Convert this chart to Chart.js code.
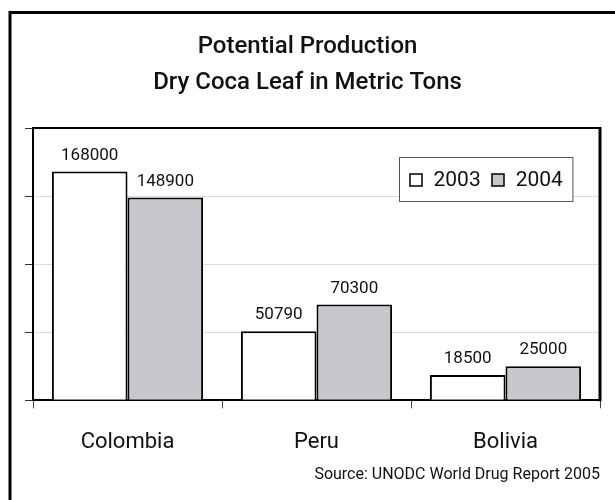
<!DOCTYPE html>
<html>
<head>
<meta charset="utf-8">
<script src="https://cdn.jsdelivr.net/npm/chart.js@4/dist/chart.umd.min.js"></script>
<style>
  html, body { margin: 0; padding: 0; background: #fff; }
  #wrap { width: 615px; height: 500px; position: relative; }
</style>
</head>
<body>
<div id="wrap"><canvas id="c" width="615" height="500"></canvas></div>
<script>
// Potential production of dry coca leaf (metric tons)
const countries = ['Colombia', 'Peru', 'Bolivia'];
const years = ['2003', '2004'];
const tons2003 = [168000, 50790, 18500];
const tons2004 = [148900, 70300, 25000];
const yTicks = [0, 50000, 100000, 150000, 200000];
const titleLines = ['Potential Production', 'Dry Coca Leaf in Metric Tons'];
const sourceNote = 'Source: UNODC World Drug Report 2005';

const FONT = 'Roboto, "DejaVu Sans", sans-serif';
Chart.defaults.font.family = FONT;
Chart.defaults.color = '#111';

// Page frame, plot box outline
const framePlugin = {
  id: 'frame',
  beforeDraw(chart) {
    const ctx = chart.ctx;
    ctx.save();
    ctx.fillStyle = '#fff';
    ctx.fillRect(0, 0, chart.width, chart.height);
    ctx.strokeStyle = '#000';
    ctx.lineWidth = 3;
    ctx.beginPath();
    ctx.moveTo(10, chart.height + 5);
    ctx.lineTo(10, 12.5);
    ctx.lineTo(chart.width + 5, 12.5);
    ctx.stroke();
    ctx.restore();
  },
  afterDatasetsDraw(chart) {
    const { ctx, chartArea: a } = chart;
    ctx.save();
    ctx.strokeStyle = '#000';
    ctx.lineWidth = 2;
    ctx.beginPath();
    ctx.moveTo(a.left, a.top);
    ctx.lineTo(a.right, a.top);
    ctx.stroke();
    ctx.lineWidth = 3;
    ctx.beginPath();
    ctx.moveTo(a.right, a.top - 1);
    ctx.lineTo(a.right, a.bottom + 1);
    ctx.stroke();
    ctx.restore();
  }
};

// Value printed above every bar
const valueLabels = {
  id: 'valueLabels',
  afterDatasetsDraw(chart) {
    const ctx = chart.ctx;
    ctx.save();
    ctx.font = '17px ' + FONT;
    ctx.fillStyle = '#111';
    ctx.textAlign = 'center';
    ctx.textBaseline = 'alphabetic';
    chart.data.datasets.forEach((ds, i) => {
      chart.getDatasetMeta(i).data.forEach((bar, j) => {
        ctx.fillText(String(ds.data[j]), bar.x, bar.y - 12);
      });
    });
    ctx.restore();
  }
};

// Boxed legend inside the plot area, top right
const boxLegend = {
  id: 'boxLegend',
  afterDraw(chart) {
    const { ctx, chartArea: a } = chart;
    ctx.save();
    ctx.font = '21px ' + FONT;
    const sq = 12, gapSq = 12, gapItem = 11, padX = 10;
    const items = chart.data.datasets.map(ds => ({
      label: ds.label, fill: ds.backgroundColor, w: ctx.measureText(ds.label).width
    }));
    let total = padX * 2;
    items.forEach((it, k) => { total += sq + gapSq + it.w + (k ? gapItem : 0); });
    const right = a.right - 27.5;
    const left = Math.round(right - total) + 0.5;
    const top = a.top + 29.5, h = 44;
    ctx.strokeStyle = '#555';
    ctx.lineWidth = 1;
    ctx.fillStyle = '#fff';
    ctx.fillRect(left, top, total, h);
    ctx.strokeRect(left, top, total, h);
    const cy = top + h / 2;
    let x = left + padX;
    ctx.textBaseline = 'middle';
    ctx.textAlign = 'left';
    items.forEach((it, k) => {
      if (k) x += gapItem;
      ctx.fillStyle = it.fill;
      ctx.fillRect(Math.round(x), Math.round(cy - sq / 2), sq, sq);
      ctx.strokeStyle = '#000';
      ctx.lineWidth = 1.5;
      ctx.strokeRect(Math.round(x), Math.round(cy - sq / 2), sq, sq);
      x += sq + gapSq;
      ctx.fillStyle = '#111';
      ctx.fillText(it.label, x, cy + 1);
      x += it.w;
    });
    ctx.restore();
  }
};

new Chart(document.getElementById('c'), {
  type: 'bar',
  data: {
    labels: countries,
    datasets: [
      { label: years[0], data: tons2003, backgroundColor: '#ffffff', borderColor: '#000', borderWidth: 2 },
      { label: years[1], data: tons2004, backgroundColor: '#c8c8cc', borderColor: '#000', borderWidth: 2 }
    ]
  },
  options: {
    responsive: false,
    animation: false,
    devicePixelRatio: 1,
    layout: { padding: { left: 15, right: 15, top: 0, bottom: 0 } },
    datasets: { bar: { categoryPercentage: 0.8, barPercentage: 1.0 } },
    plugins: {
      legend: { display: false },
      tooltip: { enabled: false },
      title: {
        display: true,
        text: titleLines,
        color: '#111',
        font: { size: 24, weight: '500', lineHeight: 1.5 },
        padding: { top: 29, bottom: 27 }
      },
      subtitle: {
        display: true,
        position: 'bottom',
        align: 'end',
        text: sourceNote,
        color: '#111',
        font: { size: 16, weight: 'normal', lineHeight: 1.2 },
        padding: { top: 12.5, bottom: 15 }
      }
    },
    scales: {
      x: {
        afterFit: s => { s.height = 53; },
        grid: { offset: true, drawOnChartArea: false, drawTicks: true, tickLength: 8, tickColor: '#444', lineWidth: 1 },
        border: { display: true, color: '#000', width: 2 },
        ticks: { color: '#111', font: { size: 22, lineHeight: 1.2 }, padding: 21, maxRotation: 0 }
      },
      y: {
        min: 0,
        max: 200000,
        afterBuildTicks: s => { s.ticks = yTicks.map(v => ({ value: v })); },
        afterFit: s => { s.width = 18; },
        grid: { color: '#dcdcdc', tickColor: '#333', tickLength: 8, lineWidth: 1 },
        border: { display: true, color: '#000', width: 2 },
        ticks: { display: false }
      }
    }
  },
  plugins: [framePlugin, valueLabels, boxLegend]
});
</script>
</body>
</html>
